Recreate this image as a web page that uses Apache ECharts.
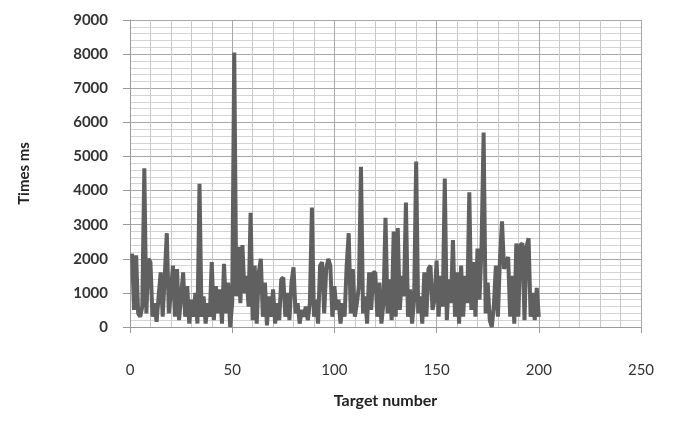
<!DOCTYPE html>
<html>
<head>
<meta charset="utf-8">
<script src="https://cdn.jsdelivr.net/npm/echarts@6/dist/echarts.min.js"></script>
<style>html,body{margin:0;padding:0;background:#fff;}#c{width:675px;height:433px;}</style>
</head>
<body>
<div id="c"></div>
<script>
const xTicks = [0, 50, 100, 150, 200, 250];
const yTicks = [0, 1000, 2000, 3000, 4000, 5000, 6000, 7000, 8000, 9000];
const targetNumbers = Array.from({length: 200}, (_, i) => i + 1);
const timesMs = [
  2150, 500, 2100, 400, 300, 600, 4650, 400, 2000, 1900,
  300, 700, 150, 900, 1600, 300, 1500, 2750, 400, 1000,
  1800, 300, 1700, 200, 900, 1600, 300, 1200, 100, 800,
  300, 1000, 100, 4200, 300, 900, 100, 700, 300, 1900,
  200, 1200, 400, 1100, 100, 1850, 400, 1300, 0, 700,
  8050, 900, 2350, 700, 2400, 1000, 1500, 600, 3350, 200,
  1800, 100, 1600, 2000, 300, 1300, 50, 900, 300, 1100,
  100, 700, 200, 1400, 1450, 300, 1000, 200, 1300, 1750,
  400, 700, 100, 500, 300, 600, 200, 700, 3500, 300,
  800, 100, 1800, 1900, 400, 1700, 2000, 1800, 300, 1200,
  500, 800, 100, 700, 300, 1800, 2750, 400, 1700, 300,
  700, 1200, 4700, 400, 900, 100, 1600, 500, 1600, 1600,
  300, 1300, 100, 700, 3200, 400, 1400, 200, 2800, 300,
  2900, 500, 1500, 900, 3650, 300, 1100, 100, 800, 4850,
  400, 900, 100, 1600, 300, 1700, 1800, 500, 800, 1950,
  300, 1500, 600, 4350, 200, 1400, 700, 2550, 300, 1600,
  100, 1800, 300, 1500, 700, 3950, 500, 1900, 300, 2300,
  800, 2400, 5700, 400, 1300, 200, 0, 600, 1800, 300,
  2000, 3100, 1700, 1900, 2050, 300, 1500, 100, 2450, 300,
  2400, 2450, 200, 2350, 2600, 300, 1000, 200, 1150, 300
];
const xAxisTitle = 'Target number';
const yAxisTitle = 'Times ms';

const chart = echarts.init(document.getElementById('c'), null, {renderer: 'canvas'});
const font = 'Lato, "Open Sans", sans-serif';
chart.setOption({
  animation: false,
  backgroundColor: '#ffffff',
  grid: {left: 130, right: 34, top: 20, bottom: 106, containLabel: false},
  xAxis: {
    type: 'value',
    min: xTicks[0], max: xTicks[xTicks.length - 1], interval: 50,
    name: xAxisTitle, nameLocation: 'middle', nameGap: 66,
    nameTextStyle: {fontFamily: font, fontSize: 16, fontWeight: 'bold', color: '#222'},
    axisLine: {show: true, lineStyle: {color: '#9a9a9a', width: 1}},
    axisTick: {show: true, length: 6, lineStyle: {color: '#9a9a9a'}},
    minorTick: {show: false, splitNumber: 5},
    axisLabel: {margin: 36, fontFamily: font, fontSize: 15, color: '#333', formatter: v => String(v)},
    splitLine: {show: true, lineStyle: {color: '#a8a8a8', width: 1}},
    minorSplitLine: {show: true, lineStyle: {color: '#c8c8c8', width: 1}}
  },
  yAxis: {
    type: 'value',
    min: yTicks[0], max: yTicks[yTicks.length - 1], interval: 1000,
    name: yAxisTitle, nameLocation: 'middle', nameGap: 98, nameRotate: 90,
    nameTextStyle: {fontFamily: font, fontSize: 15, fontWeight: 'bold', color: '#222'},
    axisLine: {show: true, lineStyle: {color: '#9a9a9a', width: 1}},
    axisTick: {show: true, length: 7, lineStyle: {color: '#9a9a9a'}},
    minorTick: {show: false, splitNumber: 5},
    axisLabel: {margin: 22, fontFamily: font, fontSize: 15, fontWeight: 'bold', color: '#333', formatter: v => String(v)},
    splitLine: {show: true, lineStyle: {color: '#a8a8a8', width: 1}},
    minorSplitLine: {show: true, lineStyle: {color: '#d4d4d4', width: 1}}
  },
  series: [{
    type: 'line',
    data: targetNumbers.map((x, i) => [x, timesMs[i]]),
    showSymbol: false,
    symbol: 'none',
    lineStyle: {color: '#606060', width: 4, join: 'bevel'},
    silent: true
  }]
});
</script>
</body>
</html>
